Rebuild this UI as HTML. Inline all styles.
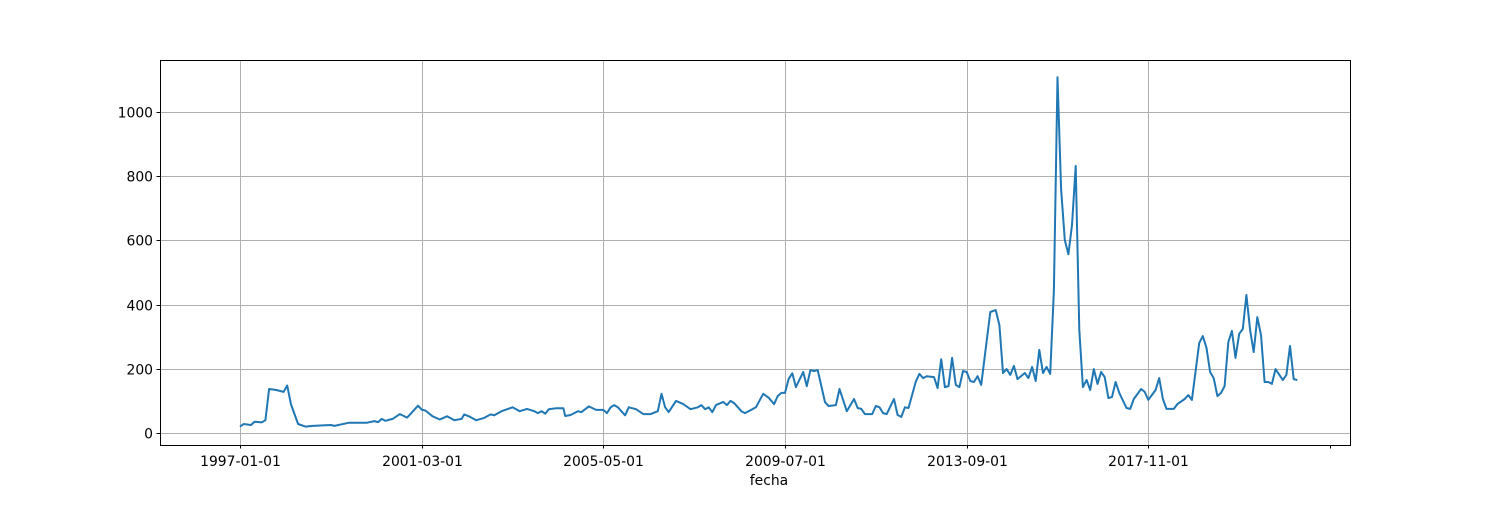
<!DOCTYPE html>
<html><head><meta charset="utf-8"><style>
body{margin:0;background:#fff;}
svg text{font-family:"DejaVu Sans","Liberation Sans",sans-serif;font-size:13.9px;fill:#000;}
</style></head><body>
<svg id="chart" width="1500" height="500">
<g id="grid"></g>
<g id="yaxis"></g>
<g id="xaxis"></g>
<path id="series" fill="none" stroke="#1f77b4" stroke-width="2" stroke-linejoin="round"></path>
<rect x="160.5" y="60.5" width="1190" height="385" fill="none" stroke="#000" stroke-width="1"></rect>
<text x="769" y="485" text-anchor="middle">fecha</text>
</svg>
<script>
const months=[0,1,3,4,6,7,8,10,12,13,14,16,18,20,25,26,30,35,37,38,39,40,42,44,46,47,49,50,51,53,55,57,59,61,61.7,63,65,67,69,70,72,75,77,79,81,82,83,84,85,87,89,89.5,91,93,94,96,98,100,101,102,103,104,106,107,109,111,113,115,116,117,118,120,122,124,126,127,128,129,130,131,133,134,135,136,138,139,141,142,144,145.5,147,148,149,150,151,152,153,155,156,157,158,159,161,162,164,165,167,169,170,171,172,174,175,176,177,178,180,181,182,183,184,186,187,188,189,191,192,193,194,195,196,197,198,199,200,201,202,203,204,206.5,208,209,210,211,212,213,214,216,217,218,219,220,221,222,223,224,225,226,227,228,229,230,231,232,233,234,235,236,237,238,239,240,241,242,244,245,246,248,249,250,252,253,254,255,257,258,260,261,262,264,265,266,267,268,269,270,271,272,273,274,275,276,277,278,279,280,281,282,283,284,285,287,288,289,290,291];
const values=[20,28,25,35,33,40,137,134,128,148,90,28,20,22,25,22,32,32,37,34,44,38,44,59,48,60,85,73,70,52,42,52,40,44,58,52,40,46,58,55,68,80,68,75,68,62,68,60,74,77,77,53,56,68,65,83,72,72,62,80,87,80,55,80,74,59,59,68,122,80,65,100,90,74,80,87,74,80,65,87,97,87,100,93,68,62,74,80,122,110,90,115,125,125,168,186,143,190,146,196,193,196,96,84,87,137,68,106,78,75,59,59,84,80,62,59,106,56,50,80,78,160,184,171,177,174,140,230,143,146,234,150,143,193,190,162,159,177,150,377,383,336,187,199,181,209,168,187,171,206,162,259,187,206,184,445,1108,760,601,557,648,832,321,143,165,134,199,153,190,174,109,112,159,125,78,75,106,137,128,103,134,171,106,75,75,90,106,118,103,280,302,265,190,171,115,125,146,283,318,234,309,324,430,321,252,361,305,159,159,153,199,165,181,271,168,165];
const yTicks=[0,200,400,600,800,1000];
const xTickMonths=[0,50,100,150,200,250,300];
const xTickLabels=["1997-01-01","2001-03-01","2005-05-01","2009-07-01","2013-09-01","2017-11-01",""];
const L=160,R=1350,T=60,B=445;
const x=m=>240+m*3.6333;
const y=v=>433-v*0.321;
const NS="http://www.w3.org/2000/svg";
const grid=document.getElementById('grid'),ya=document.getElementById('yaxis'),xa=document.getElementById('xaxis');
function mk(tag,attrs,parent){const e=document.createElementNS(NS,tag);for(const k in attrs)e.setAttribute(k,attrs[k]);parent.appendChild(e);return e;}
yTicks.forEach(v=>{const py=Math.round(y(v))+0.5;
const g=mk('line',{x1:L,x2:R,y1:py,y2:py,stroke:'#b0b0b0','stroke-width':1},grid);


mk('line',{x1:L-3.5,x2:L,y1:py,y2:py,stroke:'#000'},ya);
const t=mk('text',{x:L-7,y:py+5,'text-anchor':'end'},ya);t.textContent=v;

});
xTickMonths.forEach((m,i)=>{const px=Math.round(x(m))+0.5;
if(xTickLabels[i]){const g=mk('line',{x1:px,x2:px,y1:T,y2:B,stroke:'#b0b0b0','stroke-width':1},grid);

}
mk('line',{x1:px,x2:px,y1:B,y2:B+3.5,stroke:'#000'},xa);
const t=mk('text',{x:px,y:B+21,'text-anchor':'middle'},xa);t.textContent=xTickLabels[i];

});
document.getElementById('series').setAttribute('d',months.map((m,i)=>(i?'L':'M')+x(m).toFixed(1)+','+y(values[i]).toFixed(1)).join(''));
</script>
</body></html>
